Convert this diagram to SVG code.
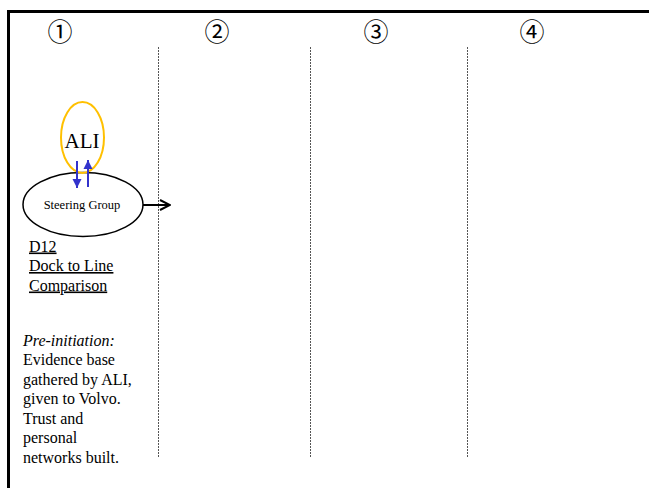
<svg xmlns="http://www.w3.org/2000/svg" width="649" height="488" viewBox="0 0 649 488">
  <style>
    text { font-family: "Liberation Serif", "Times New Roman", serif; fill: #000; }
    .num { font-size: 25px; font-family: "Liberation Serif", "DejaVu Serif", "Noto Sans CJK JP", serif; text-anchor: middle; }
    .lane { stroke: #555; stroke-width: 1; stroke-dasharray: 2 1; fill: none; }
    .frame { stroke: #000; stroke-width: 3; fill: none; }
    .body { font-size: 16px; }
    .link { font-size: 16px; text-decoration: underline; }
  </style>
  <defs>
    <marker id="openHead" viewBox="0 0 12 12" refX="11" refY="6" markerWidth="12" markerHeight="12" markerUnits="userSpaceOnUse" orient="auto">
      <path d="M1,1 L11,6 L1,11" fill="none" stroke="#000" stroke-width="2"/>
    </marker>
    <marker id="blueHead" viewBox="0 0 10 10" refX="9" refY="5" markerWidth="10" markerHeight="10" markerUnits="userSpaceOnUse" orient="auto">
      <path d="M0,0.5 L9,5 L0,9.5 Z" fill="#3333CC"/>
    </marker>
  </defs>

  <rect width="649" height="488" fill="#fff"/>

  <!-- page frame: top and left rules -->
  <path class="frame" d="M8.5,488 L8.5,11.5 L649,11.5"/>

  <!-- column numbers -->
  <g id="col-numbers">
    <text class="num" x="60" y="40.5">①</text>
    <text class="num" x="217" y="40.5">②</text>
    <text class="num" x="376" y="40.5">③</text>
    <text class="num" x="532" y="40.5">④</text>
  </g>

  <!-- column separators -->
  <g id="lanes">
    <line class="lane" x1="158.5" y1="47" x2="158.5" y2="457"/>
    <line class="lane" x1="310.5" y1="47" x2="310.5" y2="457"/>
    <line class="lane" x1="467.5" y1="47" x2="467.5" y2="457"/>
  </g>

  <g id="steering-group">
    <ellipse cx="83" cy="204.5" rx="60" ry="32" fill="#fff" stroke="#000" stroke-width="1.5"/>
    <text x="82" y="209" font-size="12.5" text-anchor="middle">Steering Group</text>
  </g>

  <g id="ali">
    <ellipse cx="82.5" cy="137.5" rx="21.5" ry="35.5" fill="none" stroke="#FFC000" stroke-width="2"/>
    <text x="82" y="148" font-size="21" text-anchor="middle">ALI</text>
  </g>

  <g id="connectors">
    <line x1="77" y1="161" x2="77" y2="188" stroke="#3333CC" stroke-width="2" marker-end="url(#blueHead)"/>
    <line x1="88" y1="187" x2="88" y2="160" stroke="#3333CC" stroke-width="2" marker-end="url(#blueHead)"/>
    <line x1="143" y1="205" x2="170" y2="205" stroke="#000" stroke-width="2" marker-end="url(#openHead)"/>
  </g>

  <g id="d12-link">
    <text class="link" x="29" y="251.5">D12</text>
    <text class="link" x="29" y="271">Dock to Line</text>
    <text class="link" x="29" y="290.5">Comparison</text>
  </g>

  <g id="pre-initiation-note">
    <text class="body" x="23" y="345.5" font-style="italic">Pre-initiation:</text>
    <text class="body" x="23" y="365">Evidence base</text>
    <text class="body" x="23" y="384.5">gathered by ALI,</text>
    <text class="body" x="23" y="404">given to Volvo.</text>
    <text class="body" x="23" y="423.5">Trust and</text>
    <text class="body" x="23" y="443">personal</text>
    <text class="body" x="23" y="462.5">networks built.</text>
  </g>
</svg>
